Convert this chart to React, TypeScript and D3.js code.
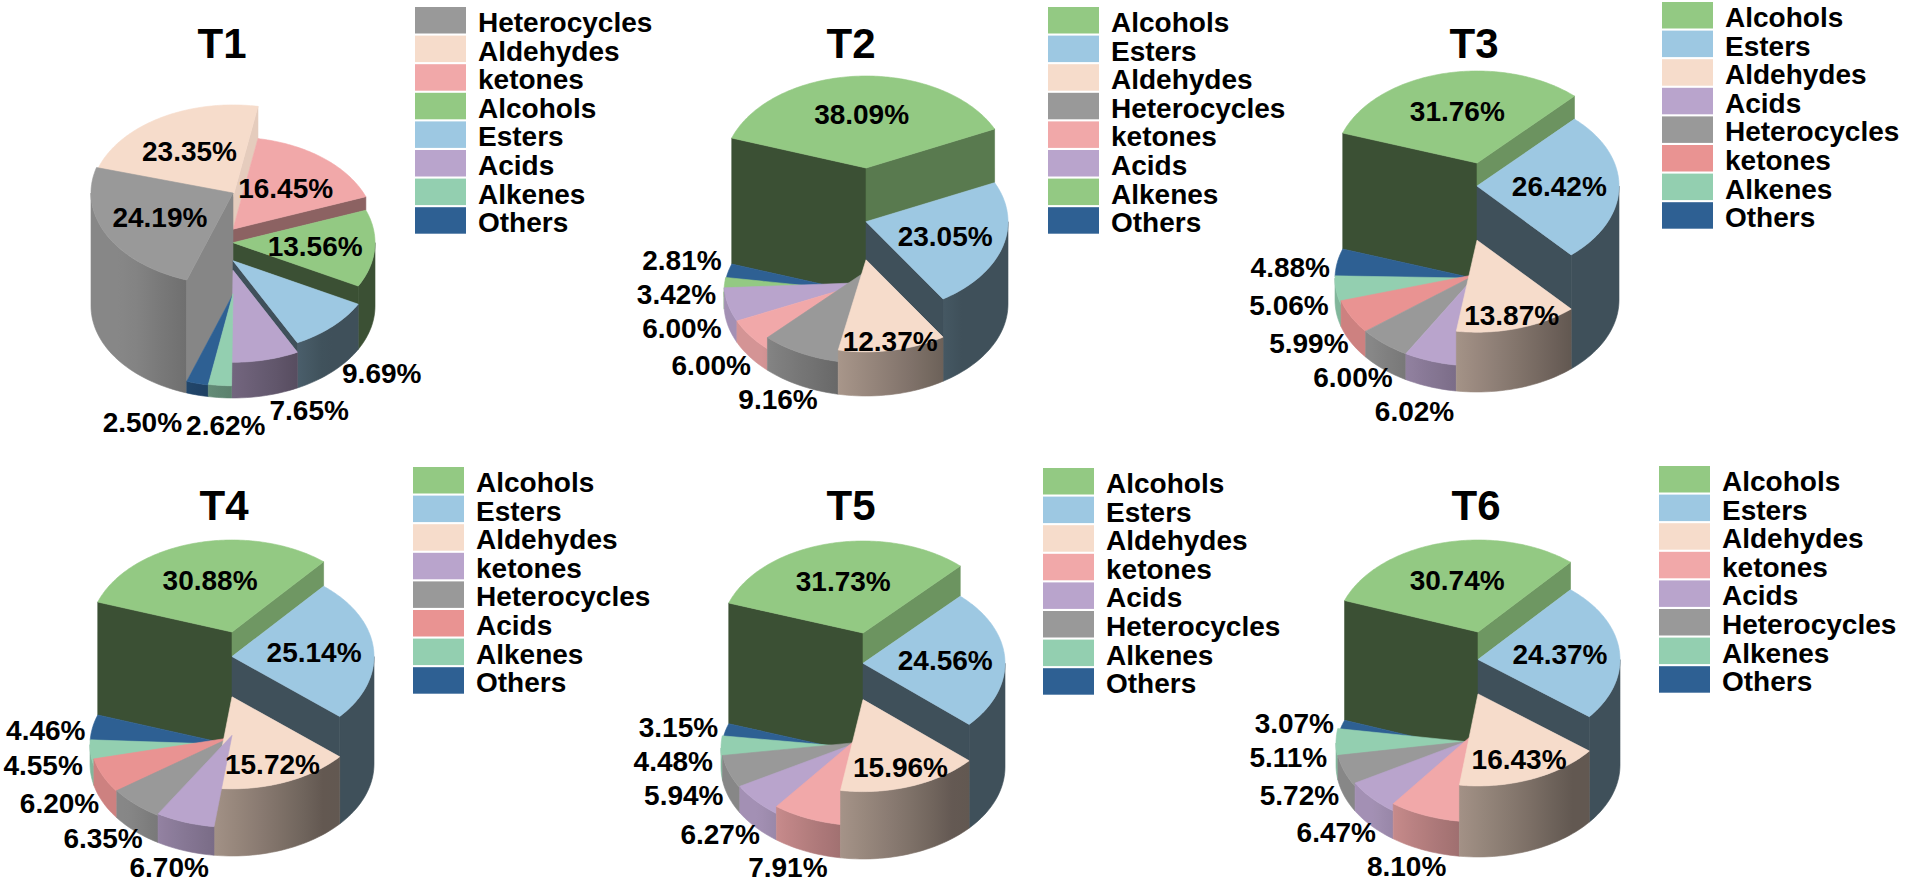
import * as d3 from "d3";
import React from "react";

// ---- data -------------------------------------------------------------
const panelTitles = ["T1", "T2", "T3", "T4", "T5", "T6"];

const t1Categories = ["Heterocycles", "Aldehydes", "ketones", "Alcohols", "Esters", "Acids", "Alkenes", "Others"];
const t1Values = [24.19, 23.35, 16.45, 13.56, 9.69, 7.65, 2.62, 2.5];

const t2Categories = ["Alcohols", "Esters", "Aldehydes", "Heterocycles", "ketones", "Acids", "Alkenes", "Others"];
const t2Values = [38.09, 23.05, 12.37, 9.16, 6.0, 6.0, 3.42, 2.81];

const t3Categories = ["Alcohols", "Esters", "Aldehydes", "Acids", "Heterocycles", "ketones", "Alkenes", "Others"];
const t3Values = [31.76, 26.42, 13.87, 6.02, 6.0, 5.99, 5.06, 4.88];

const t4Categories = ["Alcohols", "Esters", "Aldehydes", "ketones", "Heterocycles", "Acids", "Alkenes", "Others"];
const t4Values = [30.88, 25.14, 15.72, 6.7, 6.35, 6.2, 4.55, 4.46];

const t5Categories = ["Alcohols", "Esters", "Aldehydes", "ketones", "Acids", "Heterocycles", "Alkenes", "Others"];
const t5Values = [31.73, 24.56, 15.96, 7.91, 6.27, 5.94, 4.48, 3.15];

const t6Categories = ["Alcohols", "Esters", "Aldehydes", "ketones", "Acids", "Heterocycles", "Alkenes", "Others"];
const t6Values = [30.74, 24.37, 16.43, 8.1, 6.47, 5.72, 5.11, 3.07];

// ---- styles -----------------------------------------------------------
const palette: Record<string, string> = {
  green: "#93c983",
  blue: "#9dc8e2",
  peach: "#f6dccb",
  grey: "#999999",
  pink: "#f1a8a9",
  salmon: "#e99392",
  purple: "#b9a4cc",
  mint: "#93cfb0",
  navy: "#2e6093",
};
const t1Fills = ["grey", "peach", "pink", "green", "blue", "purple", "mint", "navy"];
const t2Fills = ["green", "blue", "peach", "grey", "pink", "purple", "green", "navy"];
const t3Fills = ["green", "blue", "peach", "purple", "grey", "salmon", "mint", "navy"];
const t4Fills = ["green", "blue", "peach", "purple", "grey", "salmon", "mint", "navy"];
const t5Fills = ["green", "blue", "peach", "pink", "purple", "grey", "mint", "navy"];
const t6Fills = ["green", "blue", "peach", "pink", "purple", "grey", "mint", "navy"];

// ---- layout -----------------------------------------------------------
const pieCx = [233, 866, 1477, 232, 863, 1478];
const pieCyBase = [306, 304, 300, 764, 767, 765];
const peakHeight = [113, 136, 137, 132, 134, 133];
const firstAngle = [199, 289, 289, 289, 289, 290];
const titleX = [222, 851, 1474, 224, 851, 1476];
const titleY = [58, 58, 58, 520, 520, 520];
const legendX = [415, 1048, 1662, 413, 1043, 1659];
const legendY = [7, 7, 2, 467, 468, 466];
const RX = 142;
const RY = 92;
const FONT = "'Liberation Sans', Arial, Helvetica, sans-serif";

const panels = [
  { categories: t1Categories, values: t1Values, fills: t1Fills },
  { categories: t2Categories, values: t2Values, fills: t2Fills },
  { categories: t3Categories, values: t3Values, fills: t3Fills },
  { categories: t4Categories, values: t4Values, fills: t4Fills },
  { categories: t5Categories, values: t5Values, fills: t5Fills },
  { categories: t6Categories, values: t6Values, fills: t6Fills },
];

const deg = Math.PI / 180;
const norm = (d: number) => ((d % 360) + 360) % 360;

function shade(c: string, k: number) {
  const r = d3.rgb(c);
  return d3.rgb(r.r * k, r.g * k, r.b * k).formatHex();
}
// outer rim lighting: bright on the left, dark on the right
const outerLight = (t: number) => {
  const d = norm(t / deg);
  return Math.max(0.4, Math.min(0.88, 0.4 + (d - 140) * 0.0055));
};
// cut faces lighting by facing direction
const radialLight = (phi: number) => {
  const d = norm(phi);
  if (d <= 100) return 0.93;
  if (d >= 190) return 0.4;
  return 0.93 - ((d - 100) / 90) * 0.53;
};

function frontRanges(a0: number, a1: number) {
  const out: [number, number][] = [];
  for (let k = -1; k <= 2; k++) {
    const s = Math.max(a0, Math.PI / 2 + 2 * Math.PI * k);
    const e = Math.min(a1, (3 * Math.PI) / 2 + 2 * Math.PI * k);
    if (e > s + 1e-6) out.push([s, e]);
  }
  return out;
}

const charW = (ch: string) => (ch === "." ? 0.278 : ch === "%" ? 0.889 : 0.556);
const textWidth = (s: string, size: number) => d3.sum(s.split(""), charW) * size;

function Panel({ i }: { i: number }) {
  const p = panels[i];
  const cx = pieCx[i];
  const cyB = pieCyBase[i];
  const proj = (t: number, r: number, z: number): [number, number] => [
    cx + r * RX * Math.sin(t),
    cyB - r * RY * Math.cos(t) - z,
  ];
  const start = firstAngle[i] * deg;
  const arcs = d3
    .pie<number>()
    .sort(null)
    .value((d) => d)
    .startAngle(start)
    .endAngle(start + 2 * Math.PI)(p.values);
  const hScale = d3
    .scaleLinear()
    .domain([0, d3.max(p.values) ?? 1])
    .range([0, peakHeight[i]]);
  const heights = arcs.map((a) => hScale(a.data));
  const n = arcs.length;
  const mid = (j: number) => (arcs[j].startAngle + arcs[j].endAngle) / 2;
  const line = d3.line();

  // back to front
  const order = d3.range(n).sort((a, b) => Math.cos(mid(b)) - Math.cos(mid(a)));

  const defs: JSX.Element[] = [];
  const shapes: JSX.Element[] = [];

  order.forEach((j) => {
    const a = arcs[j];
    const h = heights[j];
    const col = palette[p.fills[j]];

    // outer rim
    frontRanges(a.startAngle, a.endAngle).forEach(([s, e], k) => {
      const m = Math.max(2, Math.ceil((e - s) / (2 * deg)));
      const top = d3.range(m + 1).map((q) => proj(s + ((e - s) * q) / m, 1, h));
      const bot = d3.range(m + 1).map((q) => proj(e - ((e - s) * q) / m, 1, 0));
      const id = `rim-${i}-${j}-${k}`;
      const xl = cx + RX * Math.sin(e);
      const xr = Math.max(xl + 1, cx + RX * Math.sin(s));
      defs.push(
        <linearGradient key={id} id={id} gradientUnits="userSpaceOnUse" x1={xl} x2={xr} y1={0} y2={0}>
          {d3.range(7).map((q) => {
            const t = e - ((e - s) * q) / 6;
            const off = Math.max(0, Math.min(1, (cx + RX * Math.sin(t) - xl) / (xr - xl)));
            return <stop key={q} offset={off} stopColor={shade(col, outerLight(t))} />;
          })}
        </linearGradient>
      );
      shapes.push(
        <path key={id} d={line([...top, ...bot]) + "Z"} fill={`url(#${id})`} stroke={`url(#${id})`} strokeWidth={0.6} />
      );
    });

    // cut faces
    const wall = (t: number, lo: number, hi: number, phi: number, key: string) => {
      const c = shade(col, radialLight(phi));
      const pts = [proj(t, 0, hi), proj(t, 1, hi), proj(t, 1, lo), proj(t, 0, lo)];
      shapes.push(<path key={key} d={line(pts) + "Z"} fill={c} stroke={c} strokeWidth={0.6} />);
    };
    const prev = (j - 1 + n) % n;
    const next = (j + 1) % n;
    const sd = norm(a.startAngle / deg);
    if (sd > 180 && sd < 360 && heights[prev] < h) wall(a.startAngle, heights[prev], h, sd - 90, `ws-${i}-${j}`);
    const ed = norm(a.endAngle / deg);
    if (ed > 0 && ed < 180 && heights[next] < h) wall(a.endAngle, heights[next], h, ed + 90, `we-${i}-${j}`);

    // top face
    const m = Math.max(2, Math.ceil((a.endAngle - a.startAngle) / deg));
    const pts = [
      proj(0, 0, h),
      ...d3.range(m + 1).map((q) => proj(a.startAngle + ((a.endAngle - a.startAngle) * q) / m, 1, h)),
    ];
    shapes.push(<path key={`top-${i}-${j}`} d={line(pts) + "Z"} fill={col} stroke={col} strokeWidth={0.6} />);
  });

  // labels
  type Lab = { x: number; y: number; w: number; text: string; s: number; c: number };
  const inner: Lab[] = [];
  const outer: Lab[] = [];
  arcs.forEach((a, j) => {
    const text = `${a.data.toFixed(2)}%`;
    const w = textWidth(text, 28);
    const t = mid(j);
    const h = heights[j];
    if (a.data >= 11) {
      const sweep = (a.endAngle - a.startAngle) / deg;
      const md = norm(t / deg);
      let r = 0.58;
      if (md > 120 && md < 240 && sweep < 60) r = Math.min(0.92, 0.79 + (57 - sweep) * 0.0092);
      const [x, y] = proj(t, r, h);
      inner.push({ x, y, w, text, s: Math.sin(t), c: Math.cos(t) });
    } else {
      const sn = Math.sin(t);
      const cs = Math.cos(t);
      const px = cx + (RX + 8) * sn + (sn > 0.3 ? 16 : 0);
      const py = cyB - h / 2 - (RY + 18) * cs;
      outer.push({ x: px + (sn * w) / 2, y: py - cs * 16, w, text, s: sn, c: cs });
    }
  });
  // spread overlapping outside labels
  for (let it = 0; it < 200; it++) {
    let moved = false;
    for (let u = 0; u < outer.length; u++) {
      for (let v = u + 1; v < outer.length; v++) {
        const A = outer[u];
        const B = outer[v];
        const ox = (A.w + B.w) / 2 + 4 - Math.abs(A.x - B.x);
        const oy = 34 - Math.abs(A.y - B.y);
        if (ox <= 0 || oy <= 0) continue;
        moved = true;
        if (Math.abs(A.s) < 0.6 && Math.abs(B.s) < 0.6) {
          const dir = Math.sign(B.x - A.x) || Math.sign(B.s - A.s) || 1;
          A.x -= (dir * ox) / 2;
          B.x += (dir * ox) / 2;
        } else {
          const dir = Math.sign(B.y - A.y) || Math.sign(A.c - B.c) || 1;
          A.y -= (dir * oy) / 2;
          B.y += (dir * oy) / 2;
        }
      }
    }
    if (!moved) break;
  }
  // keep labels inside the picture
  outer.forEach((l) => {
    l.y = Math.min(l.y, 867);
  });

  return (
    <g>
      <defs>{defs}</defs>
      {shapes}
      <text x={titleX[i]} y={titleY[i]} textAnchor="middle" fontSize={42} fontWeight="bold">
        {panelTitles[i]}
      </text>
      {[...inner, ...outer].map((l, q) => (
        <text key={q} x={l.x} y={l.y} textAnchor="middle" dominantBaseline="central" fontSize={28} fontWeight="bold">
          {l.text}
        </text>
      ))}
      {p.categories.map((c, q) => (
        <g key={c + q} transform={`translate(${legendX[i]},${legendY[i] + q * 28.6})`}>
          <rect width={51} height={26.5} fill={palette[p.fills[q]]} />
          <text x={63} y={25} fontSize={28} fontWeight="bold">
            {c}
          </text>
        </g>
      ))}
    </g>
  );
}

export default function App() {
  return (
    <svg
      width={1905}
      height={885}
      viewBox="0 0 1905 885"
      style={{ position: "absolute", left: 0, top: 0, background: "#ffffff", fontFamily: FONT }}
    >
      {panels.map((_, i) => (
        <Panel key={i} i={i} />
      ))}
    </svg>
  );
}
